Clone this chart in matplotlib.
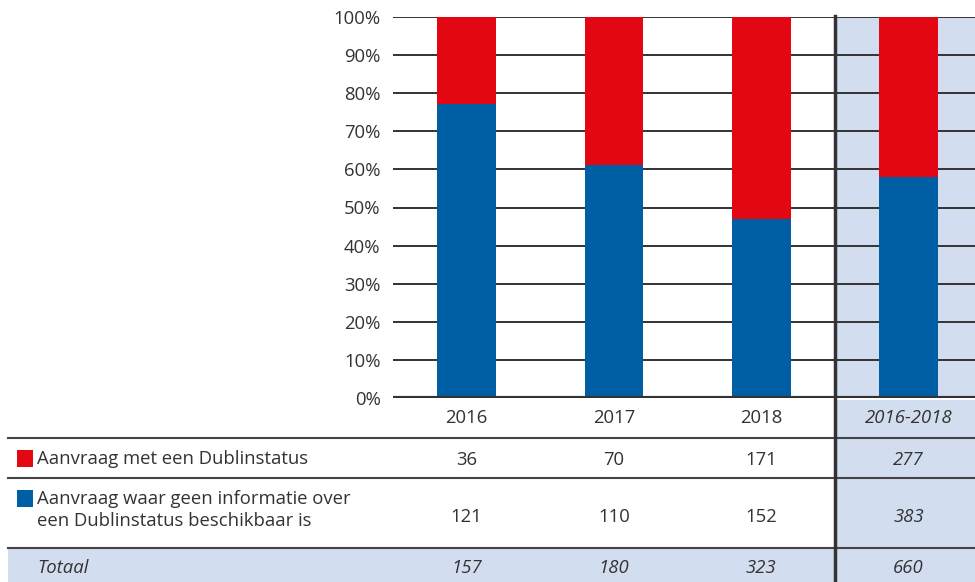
import matplotlib
matplotlib.use('Agg')
import matplotlib.pyplot as plt
from matplotlib.transforms import blended_transform_factory
from matplotlib.patches import Rectangle

# DATA ------------------------------------------------------------------------

col_labels = ['2016', '2017', '2018', '2016-2018']
dublin = [36, 70, 171, 277]          # Aanvraag met een Dublinstatus
no_info = [121, 110, 152, 383]       # geen informatie beschikbaar
totals = [157, 180, 323, 660]
row_labels = ['Aanvraag met een Dublinstatus',
              'Aanvraag waar geen informatie over\neen Dublinstatus beschikbaar is',
              'Totaal']
y_ticks = [0, 10, 20, 30, 40, 50, 60, 70, 80, 90, 100]

# STYLE -----------------------------------------------------------------------

red = '#e30613'
blue = '#005ea5'
shade = '#d3ddf0'
ink = '#333333'
plt.rcParams['font.family'] = ['Open Sans', 'DejaVu Sans']
fs = 13.3

W, H = 975, 582
fig = plt.figure(figsize=(W / 100, H / 100), dpi=100)

# background axes in pixel coordinates for the table (drawn on top)
bg = fig.add_axes([0, 0, 1, 1])
bg.set_xlim(0, W)
bg.set_ylim(H, 0)
bg.axis('off')
bg.set_zorder(2)

# chart axes
ax = fig.add_axes([393 / W, 1 - 398 / H, (W - 393) / W, (398 - 17) / H])
ax.set_zorder(1)
ax.set_xlim(-0.5, 3.45)
ax.set_ylim(0, 100)
for s in ax.spines.values():
    s.set_visible(False)

pct_blue = [100 * b / (b + r) for b, r in zip(no_info, dublin)]
pct_red = [100 - p for p in pct_blue]
x = list(range(len(col_labels)))

ax.axvspan(2.5, 3.45, color=shade, zorder=0, lw=0)
ax.bar(x, pct_blue, width=0.4, color=blue, zorder=3)
ax.bar(x, pct_red, width=0.4, bottom=pct_blue, color=red, zorder=3)

for t in y_ticks:
    ax.axhline(t, color=ink, lw=3 if t == 0 else 1.4, zorder=2 if t else 4)

ax.set_yticks(y_ticks)
ax.set_yticklabels(['%d%%' % t for t in y_ticks], fontsize=fs, color=ink)
ax.tick_params(axis='y', length=0, pad=9)
ax.set_xticks([])

# TABLE -----------------------------------------------------------------------

tr = blended_transform_factory(ax.transData, bg.transData)

# Totaal row shading
bg.add_patch(Rectangle((8, 549), W - 8, H - 549, color=shade, lw=0, zorder=0))
# table shading for total column
bg.add_patch(Rectangle((2.5, 400), 0.95, 549 - 400, transform=tr,
                       color=shade, lw=0, zorder=0))

for yy in [438, 478, 548]:
    bg.plot([8, W], [yy, yy], color='#444444', lw=1.5, zorder=2)

# vertical divider
bg.plot([2.5, 2.5], [16, H], transform=tr, color=ink, lw=2.5, zorder=5,
        clip_on=False)

for i, lab in enumerate(col_labels):
    it = 'italic' if i == 3 else 'normal'
    bg.text(i, 418, lab, transform=tr, ha='center', va='center',
            fontsize=fs, color=ink, style=it)
    bg.text(i, 460, str(dublin[i]), transform=tr, ha='center', va='center',
            fontsize=fs, color=ink, style=it)
    bg.text(i, 517, str(no_info[i]), transform=tr, ha='center', va='center',
            fontsize=fs, color=ink, style=it)
    bg.text(i, 568, str(totals[i]), transform=tr, ha='center', va='center',
            fontsize=fs, color=ink, style='italic')

# row labels with legend squares
bg.add_patch(Rectangle((17, 450), 16, 17, color=red, lw=0))
bg.add_patch(Rectangle((17, 490), 16, 17, color=blue, lw=0))
bg.text(37, 459, row_labels[0], ha='left', va='center', fontsize=fs, color=ink)
bg.text(37, 510, row_labels[1], ha='left', va='center', fontsize=fs, color=ink,
        linespacing=1.3)
bg.text(37, 568, row_labels[2], ha='left', va='center', fontsize=fs, color=ink,
        style='italic')

fig.savefig('out.png', dpi=100)
